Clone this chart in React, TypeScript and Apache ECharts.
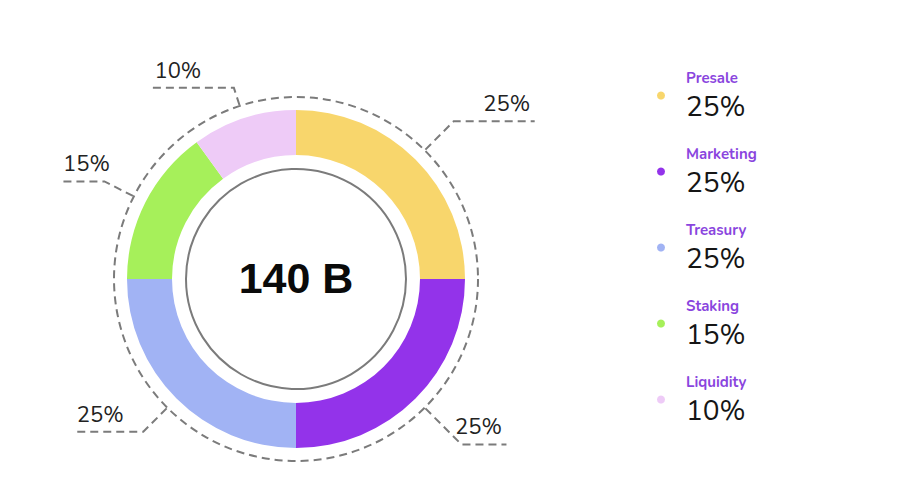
import React, { useEffect, useRef } from "react";
import * as echarts from "echarts";

const categories = ["Presale", "Marketing", "Treasury", "Staking", "Liquidity"];
const shares = [25, 25, 25, 15, 10];
const sliceColors = ["#F8D66C", "#9333EA", "#A1B3F4", "#A6F05A", "#EECBF7"];
const centerLabel = "140 B";

// leader line styling (first segment, horizontal segment) per slice
const leaderLen1 = [40, 51, 33, 32, 18];
const leaderLen2 = [81, 45, 71, 46, 84];

const CX = 296;
const CY = 279;
const FONT = "Nunito, Lato, 'Open Sans', sans-serif";

export default function App() {
  const ref = useRef<HTMLDivElement>(null);
  useEffect(() => {
    if (!ref.current) return;
    const chart = echarts.init(ref.current, undefined, { renderer: "svg" });
    const data = categories.map((name, i) => ({
      name,
      value: shares[i],
      itemStyle: { color: sliceColors[i] },
    }));
    const valueOf: Record<string, number> = {};
    categories.forEach((c, i) => (valueOf[c] = shares[i]));

    chart.setOption({
      animation: false,
      backgroundColor: "#ffffff",
      legend: {
        orient: "vertical",
        left: 652,
        top: 65,
        icon: "circle",
        itemWidth: 40,
        itemHeight: 8,
        itemGap: 25.5,
        selectedMode: false,
        data: categories,
        formatter: (name: string) => `{n|${name}}\n{v|${valueOf[name]}%}`,
        textStyle: {
          rich: {
            n: {
              fontFamily: FONT,
              fontSize: 15,
              fontWeight: "bold",
              color: "#8A45DE",
              lineHeight: 22,
            },
            v: {
              fontFamily: FONT,
              fontSize: 28,
              color: "#151515",
              lineHeight: 36,
            },
          },
        },
      },
      graphic: [
        {
          type: "circle",
          shape: { cx: CX, cy: CY, r: 182 },
          style: { fill: "none", stroke: "#7b7b7b", lineWidth: 2, lineDash: [8, 5] },
          silent: true,
        },
        {
          type: "circle",
          shape: { cx: CX, cy: CY, r: 110 },
          style: { fill: "#ffffff", stroke: "#7b7b7b", lineWidth: 2 },
          silent: true,
        },
        {
          type: "text",
          x: CX,
          y: CY - 1,
          style: {
            text: centerLabel,
            align: "center",
            verticalAlign: "middle",
            fontFamily: "'Liberation Sans', Arial, sans-serif",
            fontWeight: "bold",
            fontSize: 43,
            fill: "#0a0a0a",
          },
          silent: true,
        },
      ],
      series: [
        {
          type: "pie",
          center: [CX, CY],
          radius: [124, 169],
          startAngle: 90,
          clockwise: true,
          silent: true,
          label: { show: false },
          labelLine: { show: false },
          data,
        },
        {
          type: "pie",
          center: [CX, CY],
          radius: [182, 183],
          startAngle: 90,
          clockwise: true,
          silent: true,
          avoidLabelOverlap: false,
          itemStyle: { color: "rgba(0,0,0,0)" },
          label: {
            show: true,
            position: "outside",
            formatter: "{c}%",
            fontFamily: FONT,
            fontSize: 22,
            color: "#222222",
          },
          labelLine: {
            show: true,
            lineStyle: { color: "#7b7b7b", width: 2, type: [8, 5] },
          },
          labelLayout: (params: any) => {
            const pts = params.labelLinePoints;
            if (!pts || pts.length < 3) return {};
            const dir = pts[2][0] > pts[1][0] ? 1 : -1;
            return {
              x: pts[2][0] - dir * 28,
              y: pts[1][1] - 6,
              align: "center",
              verticalAlign: "bottom",
              labelLinePoints: pts,
            };
          },
          data: categories.map((name, i) => ({
            name,
            value: shares[i],
            labelLine: { length: leaderLen1[i], length2: leaderLen2[i] },
          })),
        },
      ],
    });
    return () => chart.dispose();
  }, []);
  return (
    <div
      ref={ref}
      style={{ position: "fixed", left: 0, top: 0, width: 900, height: 477 }}
    />
  );
}
